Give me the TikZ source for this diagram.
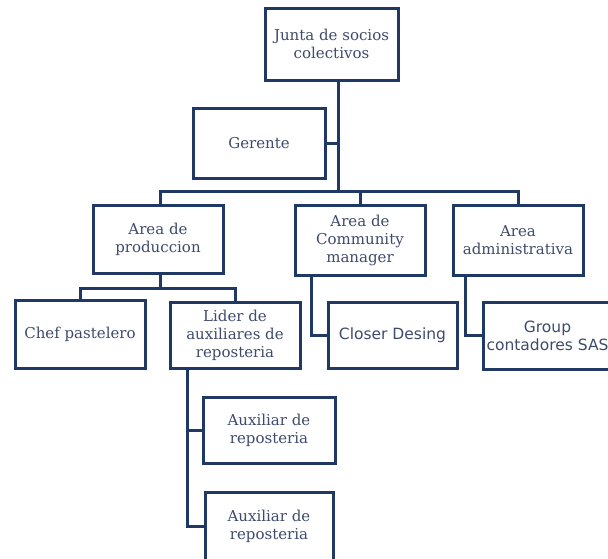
\documentclass[tikz,border=0pt]{standalone}
\usepackage{fontspec}
\setmainfont{DejaVu Serif}
\newfontfamily\sansf{DejaVu Sans}
\definecolor{boxline}{HTML}{203864}
\definecolor{txt}{HTML}{3F4B6C}
\begin{document}
\begin{tikzpicture}[x=1pt,y=-1pt,
  box/.style={draw=boxline,line width=3pt,fill=white,align=center,text=txt,
    font=\fontsize{15}{18}\selectfont,inner sep=1pt,minimum width=130pt,minimum height=68pt},
  sbox/.style={box,font=\sansf\fontsize{15.5}{18}\selectfont},
  conn/.style={draw=boxline,line width=3pt}]
\useasboundingbox (0,0) rectangle (608,558);
\fill[white] (0,0) rectangle (608,558);
\node[box,minimum width=133pt,minimum height=72pt] (junta) at (331.5,44) {Junta de socios\\colectivos};
\node[box,minimum width=132pt,minimum height=70pt] (gerente) at (259,143) {Gerente};
\node[box] (prod) at (158,239) {Area de\\produccion};
\node[box,minimum height=70pt] (comm) at (360,240) {Area de\\Community\\manager};
\node[box,minimum height=70pt] (admin) at (518,240) {Area\\administrativa};
\node[box] (chef) at (80,334) {Chef pastelero};
\node[box,minimum height=66pt] (lider) at (235,335) {Lider de\\auxiliares de\\reposteria};
\node[sbox,minimum width=129pt,minimum height=66pt] (closer) at (392.5,335) {Closer Desing};
\node[sbox,minimum width=129pt,minimum height=67pt] (group) at (547.5,335.5) {Group\\contadores SAS};
\node[box,minimum width=132pt,minimum height=66pt] (aux1) at (269,430) {Auxiliar de\\reposteria};
\node[box,minimum width=128pt,minimum height=68pt] (aux2) at (269,526) {Auxiliar de\\reposteria};
\coordinate (bar) at (338,191);
\coordinate (pbar) at (160,288);
\coordinate (ltrunk) at (187,0);
\coordinate (ctrunk) at (311,0);
\coordinate (atrunk) at (465,0);
% connectors
\draw[conn] (junta.south -| bar) -- (bar);
\draw[conn] (gerente.east) -- (gerente.east -| bar);
\draw[conn] (prod.north -| pbar) -- (pbar |- bar) -| (admin.north);
\draw[conn] (comm.north) -- (comm.north |- bar);
\draw[conn] (prod.south -| pbar) -- (pbar);
\draw[conn] (chef.north) -- (chef.north |- pbar) -- (pbar) -| (lider.north);
\draw[conn] (comm.south -| ctrunk) |- (closer.west);
\draw[conn] (admin.south -| atrunk) |- (group.west);
\draw[conn] (lider.south -| ltrunk) |- (aux1.west);
\draw[conn] (lider.south -| ltrunk) |- (aux2.west);
\end{tikzpicture}
\end{document}
